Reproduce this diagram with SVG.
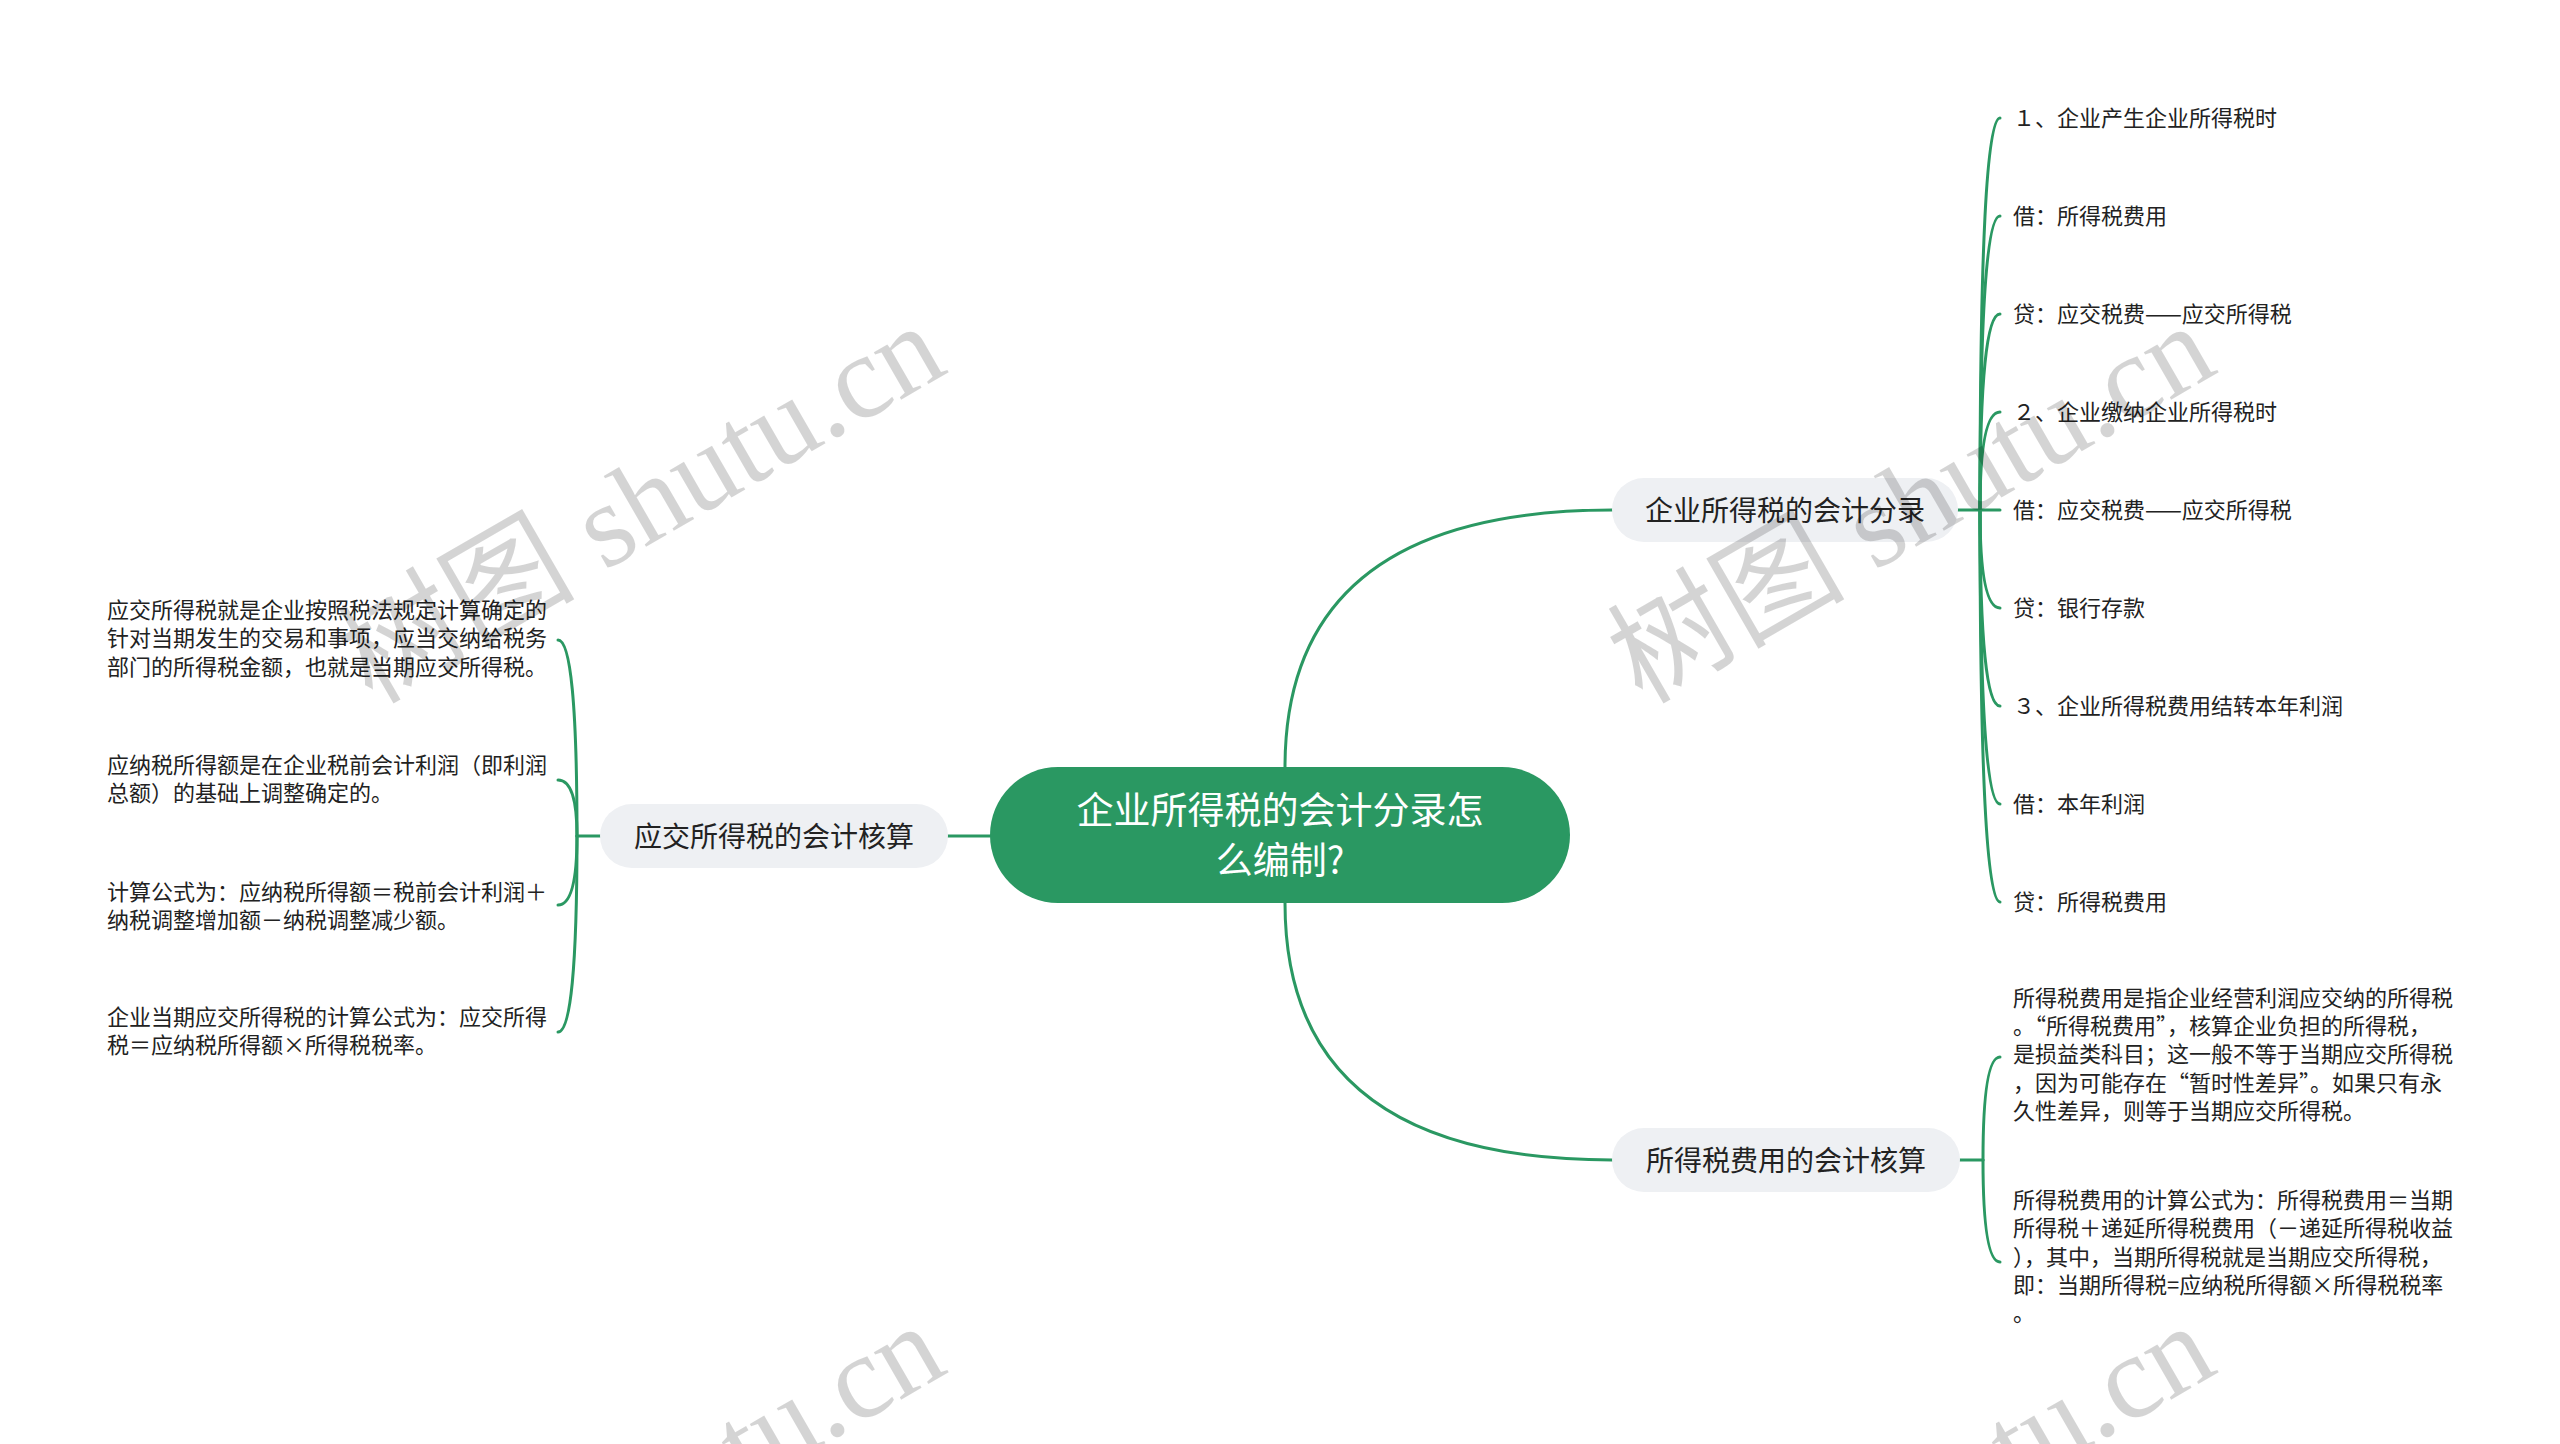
<svg xmlns="http://www.w3.org/2000/svg" width="2560" height="1444" viewBox="0 0 2560 1444">
<style>
.bg{fill:#ffffff}
.link{fill:none;stroke:#2a9862;stroke-width:3;stroke-linecap:round}
.root{fill:#2a9862}
.rootText{font-family:"Noto Sans CJK SC","Noto Sans",sans-serif;font-size:37px;fill:#ffffff;text-anchor:middle}
.branch{fill:#eef0f3}
.branchText{font-family:"Noto Sans CJK SC","Noto Sans",sans-serif;font-size:28px;fill:#222222;text-anchor:middle}
.leaf{font-family:"Noto Sans CJK SC","Noto Sans",sans-serif;font-size:22px;fill:#222222}
.wm{font-family:"Liberation Serif","Noto Sans CJK SC",serif;font-size:119px;fill:#000000;fill-opacity:0.17}
</style>
<rect class="bg" x="0" y="0" width="2560" height="1444"/>
<g id="connectors">
<path class="link" d="M990,836 L948,836"/>
<path class="link" d="M1285,767 Q1285,510 1612,510"/>
<path class="link" d="M1285,903 Q1285,1160 1612,1160"/>
<path class="link" d="M600,836 L577,836"/>
<path class="link" d="M577,836 Q577,640 558,640"/>
<path class="link" d="M577,836 Q577,780 558,780"/>
<path class="link" d="M577,836 Q577,905 558,905"/>
<path class="link" d="M577,836 Q577,1032 558,1032"/>
<path class="link" d="M1958,510 L2000,510"/>
<path class="link" d="M1980,510 Q1980,118 2000,118"/>
<path class="link" d="M1980,510 Q1980,216 2000,216"/>
<path class="link" d="M1980,510 Q1980,314 2000,314"/>
<path class="link" d="M1980,510 Q1980,412 2000,412"/>
<path class="link" d="M1980,510 Q1980,608 2000,608"/>
<path class="link" d="M1980,510 Q1980,706 2000,706"/>
<path class="link" d="M1980,510 Q1980,804 2000,804"/>
<path class="link" d="M1980,510 Q1980,902 2000,902"/>
<path class="link" d="M1960,1160 L1983,1160"/>
<path class="link" d="M1983,1160 Q1983,1057 2000,1057"/>
<path class="link" d="M1983,1160 Q1983,1262 2000,1262"/>
</g>
<g id="root">
<rect class="root" x="990" y="767" width="580" height="136" rx="68"/>
<text class="rootText" x="1280" y="824">企业所得税的会计分录怎</text>
<text class="rootText" x="1280" y="874">么编制?</text>
</g>
<g id="branch-left">
<rect class="branch" x="600" y="804" width="348" height="64" rx="32"/>
<text class="branchText" x="774" y="847">应交所得税的会计核算</text>
</g>
<g id="branch-top">
<rect class="branch" x="1612" y="478" width="346" height="64" rx="32"/>
<text class="branchText" x="1785" y="521">企业所得税的会计分录</text>
</g>
<g id="branch-bottom">
<rect class="branch" x="1612" y="1128" width="348" height="64" rx="32"/>
<text class="branchText" x="1786" y="1171">所得税费用的会计核算</text>
</g>
<g id="left-1">
<text class="leaf" x="107" y="618">应交所得税就是企业按照税法规定计算确定的</text>
<text class="leaf" x="107" y="646">针对当期发生的交易和事项，应当交纳给税务</text>
<text class="leaf" x="107" y="675">部门的所得税金额，也就是当期应交所得税。</text>
</g>
<g id="left-2">
<text class="leaf" x="107" y="773">应纳税所得额是在企业税前会计利润（即利润</text>
<text class="leaf" x="107" y="801">总额）的基础上调整确定的。</text>
</g>
<g id="left-3">
<text class="leaf" x="107" y="900">计算公式为：应纳税所得额＝税前会计利润＋</text>
<text class="leaf" x="107" y="928">纳税调整增加额－纳税调整减少额。</text>
</g>
<g id="left-4">
<text class="leaf" x="107" y="1025">企业当期应交所得税的计算公式为：应交所得</text>
<text class="leaf" x="107" y="1053">税＝应纳税所得额×所得税税率。</text>
</g>
<g id="right-1"><text class="leaf" x="2013" y="126">１、企业产生企业所得税时</text></g>
<g id="right-2"><text class="leaf" x="2013" y="224">借：所得税费用</text></g>
<g id="right-3"><text class="leaf" x="2013" y="322">贷：应交税费——应交所得税</text></g>
<g id="right-4"><text class="leaf" x="2013" y="420">２、企业缴纳企业所得税时</text></g>
<g id="right-5"><text class="leaf" x="2013" y="518">借：应交税费——应交所得税</text></g>
<g id="right-6"><text class="leaf" x="2013" y="616">贷：银行存款</text></g>
<g id="right-7"><text class="leaf" x="2013" y="714">３、企业所得税费用结转本年利润</text></g>
<g id="right-8"><text class="leaf" x="2013" y="812">借：本年利润</text></g>
<g id="right-9"><text class="leaf" x="2013" y="910">贷：所得税费用</text></g>
<g id="bottom-1">
<text class="leaf" x="2013" y="1006">所得税费用是指企业经营利润应交纳的所得税</text>
<text class="leaf" x="2013" y="1034">。“所得税费用”，核算企业负担的所得税，</text>
<text class="leaf" x="2013" y="1062">是损益类科目；这一般不等于当期应交所得税</text>
<text class="leaf" x="2013" y="1091">，因为可能存在“暂时性差异”。如果只有永</text>
<text class="leaf" x="2013" y="1119">久性差异，则等于当期应交所得税。</text>
</g>
<g id="bottom-2">
<text class="leaf" x="2013" y="1208">所得税费用的计算公式为：所得税费用＝当期</text>
<text class="leaf" x="2013" y="1236">所得税＋递延所得税费用（－递延所得税收益</text>
<text class="leaf" x="2013" y="1265">），其中，当期所得税就是当期应交所得税，</text>
<text class="leaf" x="2013" y="1293">即：当期所得税=应纳税所得额×所得税税率</text>
<text class="leaf" x="2013" y="1321">。</text>
</g>
<g id="watermarks">
<text class="wm" transform="translate(372,705) rotate(-30)">树图 shutu.cn</text>
<text class="wm" transform="translate(1642,705) rotate(-30)">树图 shutu.cn</text>
<text class="wm" transform="translate(372,1705) rotate(-30)">树图 shutu.cn</text>
<text class="wm" transform="translate(1642,1705) rotate(-30)">树图 shutu.cn</text>
</g>
</svg>
